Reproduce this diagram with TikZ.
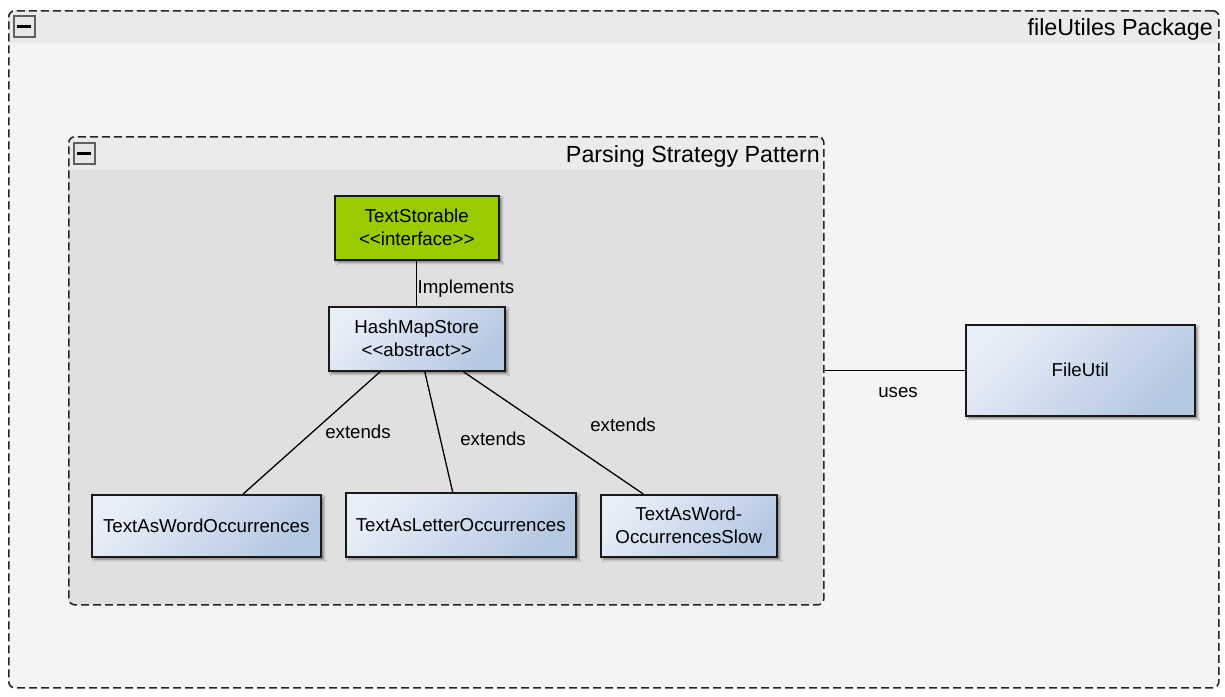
\documentclass[tikz,border=0pt]{standalone}
\usepackage{fontspec}
\setmainfont{Liberation Sans}
\usetikzlibrary{shadows.blur}
\definecolor{pkgbody}{HTML}{F4F4F4}
\definecolor{pkghead}{HTML}{EAEAEA}
\definecolor{grpbody}{HTML}{E0E0E0}
\definecolor{grphead}{HTML}{EBEBEB}
\definecolor{clsA}{HTML}{E8EEF8}
\definecolor{clsB}{HTML}{B5C8E2}
\definecolor{ifc}{HTML}{99CC00}
\definecolor{iconcol}{HTML}{5F5F5F}
\definecolor{iconfill}{HTML}{E6E6E6}
\newcommand{\clsfont}{\fontsize{18.7pt}{23pt}\selectfont}
\newcommand{\ttlfont}{\fontsize{23.3pt}{27pt}\selectfont}
\begin{document}
\begin{tikzpicture}[x=1pt,y=-1pt,
  grp/.style={draw=black!85, line width=1.6pt, dash pattern=on 8pt off 4pt, rounded corners=6pt, inner sep=0pt, anchor=north west},
  icon/.style={draw=iconcol, fill=iconfill, line width=2pt, minimum size=21pt, inner sep=0pt,
     path picture={\draw[black, line width=3pt] (path picture bounding box.center) ++(-7pt,0) -- ++(14pt,0);}},
  shad/.style={blur shadow={shadow xshift=3pt, shadow yshift=-3pt, shadow blur steps=6, shadow opacity=45}},
  cls/.style={shad, draw=black!90, line width=1.5pt, top color=clsA, bottom color=clsB, shading angle=45,
     font=\clsfont, align=center, inner sep=0pt, anchor=north west},
  ifcbox/.style={shad, draw=black!90, line width=1.5pt, fill=ifc,
     font=\clsfont, align=center, inner sep=0pt, anchor=north west},
  lbl/.style={font=\clsfont, inner sep=1pt},
  ttl/.style={font=\ttlfont, anchor=base east, inner sep=0pt},
  edge/.style={draw=black, line width=1.3pt}
]
\useasboundingbox (0,0) rectangle (1225,696);
\fill[white] (0,0) rectangle (1225,696);

% package fileUtiles
\fill[pkgbody, rounded corners=6pt] (8,10) rectangle (1218,687);
\fill[pkghead] (8,43) [rounded corners=6pt] -- (8,10) -- (1218,10) [sharp corners] -- (1218,43) -- cycle;
\node[grp, minimum width=1210pt, minimum height=677pt] (pkg) at (8,10) {};
\node[icon] (pkgicon) at (24,26) {};
\node[ttl] (pkgtitle) at (1213,35) {fileUtiles Package};

% group Parsing Strategy Pattern
\fill[grpbody, rounded corners=6pt] (68,136) rectangle (823,604);
\fill[grphead] (68,170) [rounded corners=6pt] -- (68,136) -- (823,136) [sharp corners] -- (823,170) -- cycle;
\node[grp, minimum width=755pt, minimum height=468pt] (parsing) at (68,136) {};
\node[icon] (grpicon) at (84,153) {};
\node[ttl] (grptitle) at (820,162) {Parsing Strategy Pattern};

% classes
\node[ifcbox, minimum width=164pt, minimum height=64pt] (ts) at (334,195) {TextStorable\\<{}<interface>{}>};
\node[cls, minimum width=176pt, minimum height=64pt] (hash) at (328,306) {HashMapStore\\<{}<abstract>{}>};
\node[cls, minimum width=229pt, minimum height=62pt] (word) at (91,494) {TextAsWordOccurrences};
\node[cls, minimum width=230pt, minimum height=64pt] (letter) at (345,492) {TextAsLetterOccurrences};
\node[cls, minimum width=176pt, minimum height=62pt] (slow) at (600,494) {TextAsWord-\\OccurrencesSlow};
\node[cls, minimum width=229pt, minimum height=91pt] (fileutil) at (965,324) {FileUtil};

% connectors
\draw[edge] (ts.south) -- (hash.north);
\node[lbl] (lblimpl) at (466,289) {Implements};
\draw[edge] ($(hash.south west)!0.295!(hash.south east)$) -- ($(word.north west)!0.66!(word.north east)$);
\node[lbl] (lblext1) at (358,432) {extends};
\draw[edge] ($(hash.south west)!0.545!(hash.south east)$) -- ($(letter.north west)!0.465!(letter.north east)$);
\node[lbl] (lblext2) at (493,439) {extends};
\draw[edge] ($(hash.south west)!0.761!(hash.south east)$) -- ($(slow.north west)!0.244!(slow.north east)$);
\node[lbl] (lblext3) at (623,425) {extends};
\draw[edge] (parsing.east |- fileutil.west) -- (fileutil.west);
\node[lbl] (lbluses) at (898,393) {uses};
\end{tikzpicture}
\end{document}
